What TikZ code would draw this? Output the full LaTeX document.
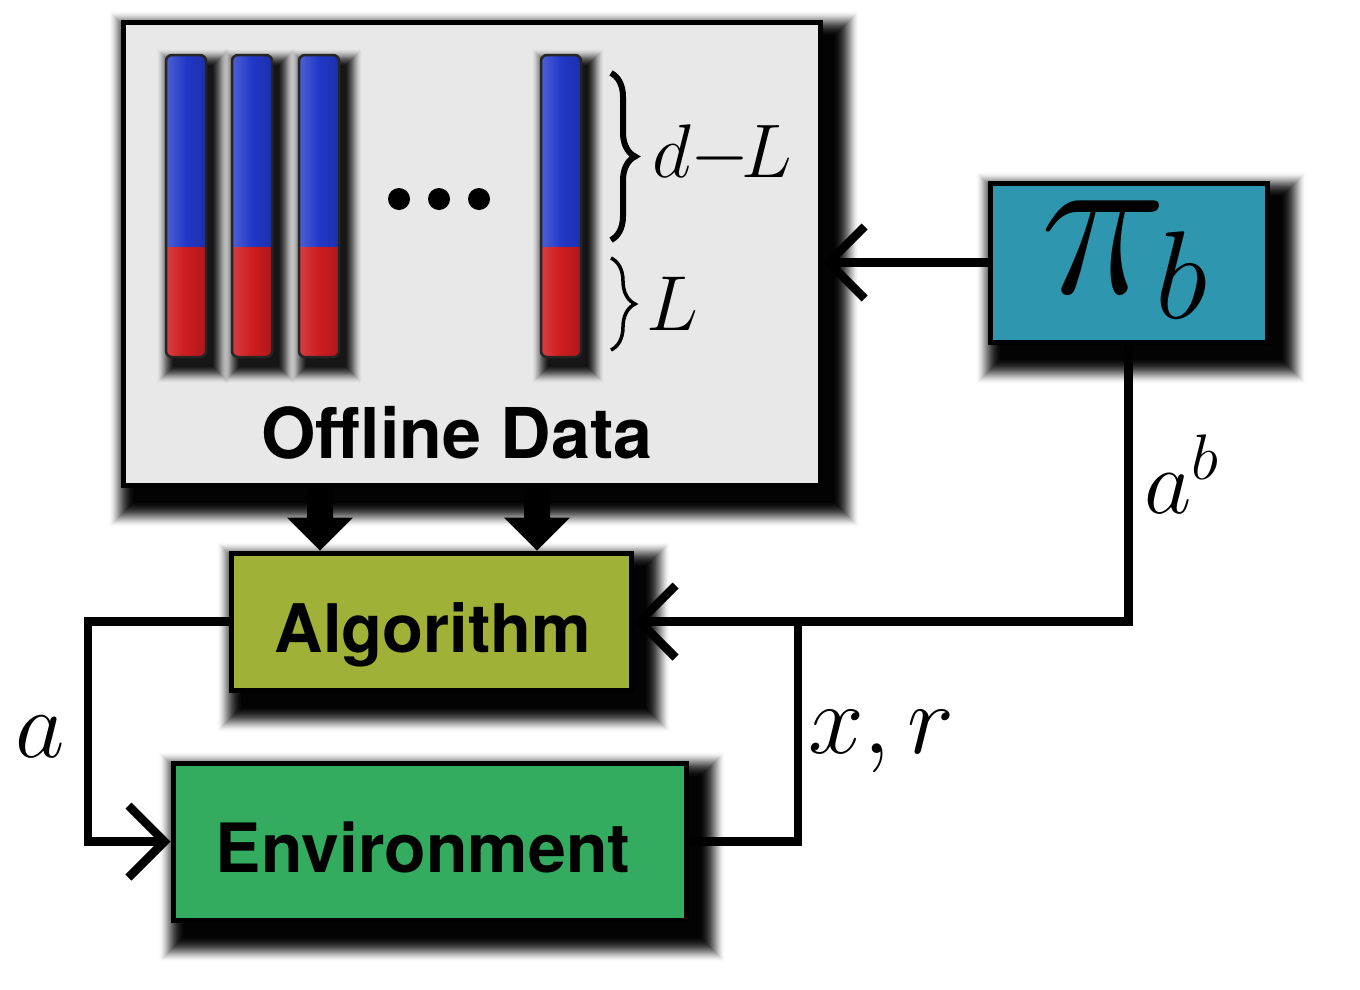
\RequirePackage{fix-cm}
\documentclass[tikz,border=0pt]{standalone}
\usepackage{fontspec}
\newfontfamily\heros{TeX Gyre Heros}
\usetikzlibrary{arrows.meta,decorations.pathreplacing,calc}
\pgfdeclarelayer{bgl}
\pgfdeclarelayer{shd}
\pgfsetlayers{bgl,shd,main}
\definecolor{datafill}{RGB}{232,232,232}
\definecolor{pibfill}{RGB}{46,150,175}
\definecolor{algfill}{RGB}{161,176,54}
\definecolor{envfill}{RGB}{52,172,96}
\definecolor{barblue}{RGB}{33,56,200}
\definecolor{barred}{RGB}{206,28,32}
% soft shadow: nw corner, se corner, dx, dy, layers, step
\newcommand\softshadow[6]{%
  \foreach \i in {0,...,#5}{%
    \pgfmathsetmacro\op{0.22*(1-\i/(#5+1))}%
    \fill[shadowlayer, fill opacity=\op] ($(#1)+(#3-\i*#6,#4-\i*#6)$) rectangle ($(#2)+(#3+\i*#6,#4+\i*#6)$);}}
% fat arrow from anchor A down to anchor B
\newcommand\fatarrow[2]{%
  \fill ($(#1)+(-13,0)$) -- ($(#1)+(13,0)$) -- ($(#2)+(13,-33)$) -- ($(#2)+(33,-33)$)
    -- (#2) -- ($(#2)+(-33,-33)$) -- ($(#2)+(-13,-33)$) -- cycle;}
\begin{document}
\begin{tikzpicture}[x=1pt,y=-1pt,
  box/.style={draw=black, line width=5pt, inner sep=0pt},
  shadowlayer/.style={black},
  conn/.style={line width=8.5pt, line join=miter, draw=black},
  barb/.style={-{Straight Barb[length=36pt,width=72pt]}},
  lab/.style={font=\heros\bfseries\fontsize{70}{80}\selectfont, inner sep=0pt},
  mlab/.style={font=\fontsize{96}{100}\selectfont, inner sep=0pt},
  brc/.style={decorate, decoration={brace, amplitude=24pt}},
]
\begin{pgfonlayer}{bgl}
\fill[white] (0,0) rectangle (1360,989);
\end{pgfonlayer}
\useasboundingbox (0,0) rectangle (1360,989);

% Offline data box
\node[box, fill=datafill, minimum width=697pt, minimum height=463pt] (data) at (471.5,253.5) {};

% bars
\foreach \bx in {166,232,299,541}{
  \softshadow{\bx,55}{\bx+40,357}{7}{10}{16}{1}
  \begin{scope}
    \clip[rounded corners=6pt] (\bx,55) rectangle ++(40,302);
    \shade[left color=barblue!80!white, right color=barblue!85!black, middle color=barblue] (\bx,55) rectangle (\bx+40,247);
    \shade[left color=barred!85!white, right color=barred!85!black, middle color=barred] (\bx,247) rectangle (\bx+40,357);
  \end{scope}
  \draw[line width=2.5pt, rounded corners=6pt, black!85] (\bx,55) rectangle ++(40,302);
}

% dots
\foreach \dx in {399,439,479}{ \fill (\dx,199) circle (11pt); }

% braces
\draw[brc, line width=6pt] (611,73) -- (611,240);
\draw[brc, line width=3.5pt] (611,258) -- (611,350);
\node[mlab, font=\fontsize{76}{80}\selectfont, anchor=base west] (dl) at (652,177) {$d{-}\mkern-2mu L$};
\node[mlab, font=\fontsize{78}{80}\selectfont, anchor=base west] (ll) at (646,330) {$L$};

\node[lab, anchor=base] (datalbl) at (457,458) {Offline Data};

% pi_b box
\node[box, fill=pibfill, minimum width=277pt, minimum height=159pt] (pib) at (1128.5,262.5) {};
\node[inner sep=0pt, anchor=base west] (pibtxt) at (1040,293)
  {{\fontsize{215}{215}\selectfont$\pi$}\kern-12pt\raisebox{-25pt}{\fontsize{125}{125}\selectfont$b$}};

% Algorithm box
\node[box, fill=algfill, minimum width=400pt, minimum height=137pt] (alg) at (431,621.5) {};
\node[lab, font=\heros\bfseries\fontsize{67}{80}\selectfont, anchor=base] (algtxt) at (433,652) {Algorithm};

% Environment box
\node[box, fill=envfill, minimum width=513pt, minimum height=157pt] (env) at (429.5,841.5) {};
\node[lab, font=\heros\bfseries\fontsize{68}{80}\selectfont, anchor=base] (envtxt) at (423,872) {Environment};

% shadows of the boxes
\begin{pgfonlayer}{shd}
\softshadow{data.north west}{data.south east}{12}{15}{24}{1}
\softshadow{pib.north west}{pib.south east}{12}{15}{24}{1}
\softshadow{alg.north west}{alg.south east}{12}{15}{24}{1}
\softshadow{env.north west}{env.south east}{12}{15}{24}{1}
\end{pgfonlayer}

% fat arrows
\coordinate (f1) at (320,0);
\coordinate (f2) at (537,0);
\fatarrow{data.south -| f1}{alg.north -| f1}
\fatarrow{data.south -| f2}{alg.north -| f2}

% connectors
\coordinate (lx) at (88,0);
\coordinate (jx) at (798,0);
\draw[conn, barb] (pib.west) -- (pib.west -| data.east);
\draw[conn, barb] (pib.south) |- (alg.east);
\draw[conn] (env.east) -| (jx |- alg.east);
\draw[conn, barb] (alg.west) -- (alg.west -| lx) |- (env.west);

% labels
\node[mlab, anchor=base west] (alab) at (15,757) {$a$};
\node[mlab, font=\fontsize{92}{100}\selectfont, anchor=base west] (ablab) at (1144,513) {$a^b$};
\node[mlab, font=\fontsize{100}{100}\selectfont, anchor=base west] (xrlab) at (808,753) {$x,r$};
\end{tikzpicture}
\end{document}
